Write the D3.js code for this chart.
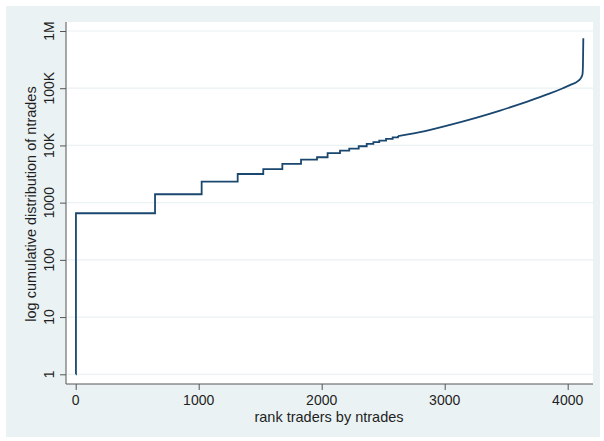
<!DOCTYPE html>
<html>
<head>
<meta charset="utf-8">
<script src="https://d3js.org/d3.v7.min.js"></script>
<style>
    body { margin: 0; background: #ffffff; }
    text { font-family: "Liberation Sans", Arial, sans-serif; }
</style>
</head>
<body>
<svg id="chart" width="604" height="441"></svg>
<script>
// step part (ties in ntrades give flat runs)
var stepRanks = [1, 2, 645, 1024, 1317, 1525, 1680, 1832, 1962, 2048, 2149, 2224, 2301, 2366, 2420, 2468, 2523, 2577, 2620];
var stepValues = [1, 653, 1403, 2330, 3170, 3840, 4750, 5650, 6220, 7310, 8110, 8790, 9680, 10620, 11380, 12130, 12980, 13830, 14600];
// upper part, steps too small to see
var curveRanks = [2620, 2840, 3043, 3246, 3450, 3653, 3856, 3961, 4018, 4083, 4107, 4120, 4124, 4127];
var curveValues = [14600, 17860, 22910, 30100, 40750, 56660, 81000, 100000, 113000, 133000, 150000, 175000, 250000, 748000];

var xTicks = [0, 1000, 2000, 3000, 4000];
var yTicks = [1, 10, 100, 1000, 10000, 100000, 1000000];
var yTickLabels = ['1', '10', '100', '1000', '10K', '100K', '1M'];

var svg = d3.select('#chart');

// outer graph region
svg.append('rect')
    .attr('x', 6)
    .attr('y', 6)
    .attr('width', 594)
    .attr('height', 431)
    .style('fill', '#eaf2f3');

var plot = { left: 66, top: 22, right: 593, bottom: 384 };

svg.append('rect')
    .attr('x', plot.left)
    .attr('y', plot.top)
    .attr('width', plot.right - plot.left)
    .attr('height', plot.bottom - plot.top)
    .style('fill', '#ffffff');

var xScale = d3.scaleLinear()
    .domain([0, 4000])
    .range([75.7, 567.7]);
var yScale = d3.scaleLog()
    .domain([1, 1000000])
    .range([374.3, 31]);

// gridlines
svg.selectAll('.grid')
    .data(yTicks)
    .enter()
    .append('line')
    .attr('class', 'grid')
    .attr('x1', plot.left + 1)
    .attr('x2', plot.right)
    .attr('y1', function (d) { return yScale(d); })
    .attr('y2', function (d) { return yScale(d); })
    .style('stroke', '#eaf2f3')
    .style('stroke-width', 1.2);

// axes
var yAxis = d3.axisLeft(yScale)
    .tickValues(yTicks)
    .tickSize(6)
    .tickFormat('');
var xAxis = d3.axisBottom(xScale)
    .tickValues(xTicks)
    .tickSize(6)
    .tickFormat('');

var yG = svg.append('g')
    .attr('transform', 'translate(' + plot.left + ',0)')
    .call(yAxis);
var xG = svg.append('g')
    .attr('transform', 'translate(0,' + plot.bottom + ')')
    .call(xAxis);

yG.select('.domain').remove();
xG.select('.domain').remove();
svg.selectAll('.tick line')
    .style('stroke', '#555555')
    .style('stroke-width', 1);

svg.append('line')
    .attr('x1', plot.left)
    .attr('x2', plot.left)
    .attr('y1', plot.top)
    .attr('y2', plot.bottom)
    .style('stroke', '#555555')
    .style('stroke-width', 1);
svg.append('line')
    .attr('x1', plot.left)
    .attr('x2', plot.right)
    .attr('y1', plot.bottom)
    .attr('y2', plot.bottom)
    .style('stroke', '#555555')
    .style('stroke-width', 1);

// tick labels
svg.selectAll('.ylab')
    .data(yTicks)
    .enter()
    .append('text')
    .attr('class', 'ylab')
    .attr('transform', function (d) {
        return 'translate(54,' + yScale(d) + ') rotate(-90)';
    })
    .attr('text-anchor', 'middle')
    .style('font-size', '14px')
    .style('fill', '#1f1f1f')
    .text(function (d, i) { return yTickLabels[i]; });

svg.selectAll('.xlab')
    .data(xTicks)
    .enter()
    .append('text')
    .attr('class', 'xlab')
    .attr('x', function (d) { return xScale(d); })
    .attr('y', 405)
    .attr('text-anchor', 'middle')
    .style('font-size', '14px')
    .style('fill', '#1f1f1f')
    .text(function (d) { return d; });

// titles
svg.append('text')
    .attr('transform', 'translate(36,204) rotate(-90)')
    .attr('text-anchor', 'middle')
    .style('font-size', '14.5px')
    .style('fill', '#1f1f1f')
    .text('log cumulative distribution of ntrades');

svg.append('text')
    .attr('x', 329)
    .attr('y', 422)
    .attr('text-anchor', 'middle')
    .style('font-size', '14.5px')
    .style('fill', '#1f1f1f')
    .text('rank traders by ntrades');

// the line
var stepData = stepRanks.map(function (r, i) { return [r, stepValues[i]]; });
var curveData = curveRanks.map(function (r, i) { return [r, curveValues[i]]; });

var stepLine = d3.line()
    .x(function (d) { return xScale(d[0]); })
    .y(function (d) { return yScale(d[1]); })
    .curve(d3.curveStepAfter);
var smoothLine = d3.line()
    .x(function (d) { return xScale(d[0]); })
    .y(function (d) { return yScale(d[1]); })
    .curve(d3.curveMonotoneX);

svg.append('path')
    .datum(stepData.concat([curveData[0]]))
    .attr('d', stepLine)
    .style('fill', 'none')
    .style('stroke', '#1a476f')
    .style('stroke-width', 1.8);
svg.append('path')
    .datum(curveData)
    .attr('d', smoothLine)
    .style('fill', 'none')
    .style('stroke', '#1a476f')
    .style('stroke-width', 1.8);
</script>
</body>
</html>
